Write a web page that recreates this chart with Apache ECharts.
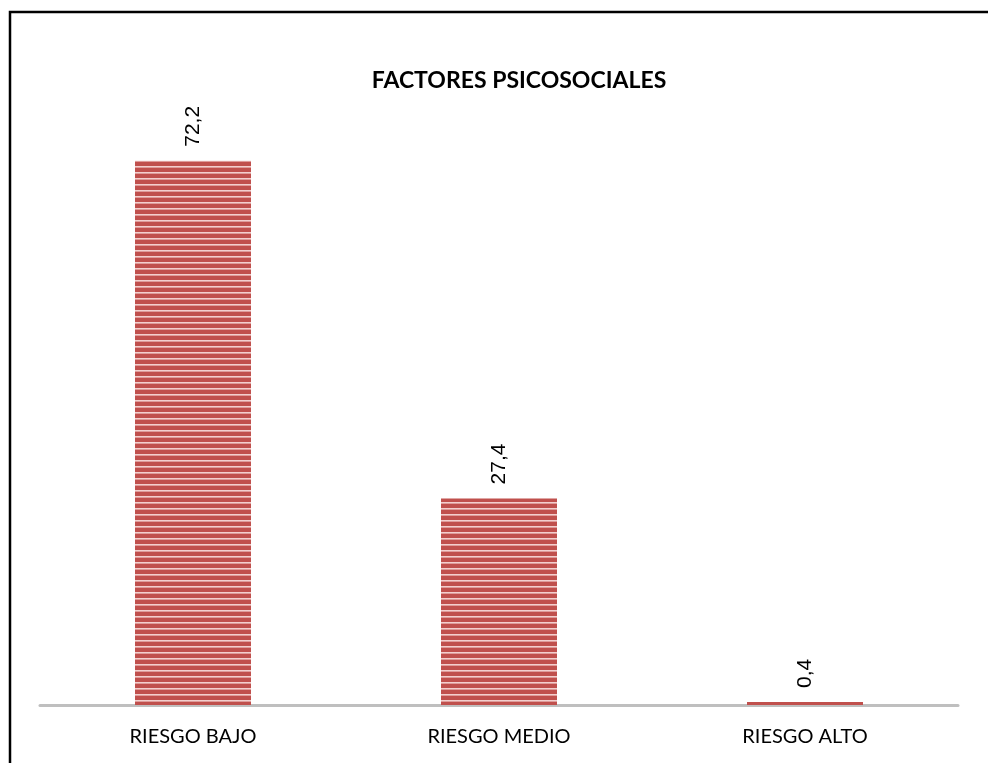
<!DOCTYPE html>
<html>
<head>
<meta charset="utf-8">
<script src="https://cdn.jsdelivr.net/npm/echarts@6/dist/echarts.min.js"></script>
<style>
html,body{margin:0;padding:0;background:#fff;}
#chart{width:988px;height:763px;}
</style>
</head>
<body>
<div id="chart"></div>
<script>
const titleText = 'FACTORES PSICOSOCIALES';
const categories = ['RIESGO BAJO', 'RIESGO MEDIO', 'RIESGO ALTO'];
const values = [72.2, 27.4, 0.4];

function stripePattern() {
  const c = document.createElement('canvas');
  c.width = 8; c.height = 6;
  const ctx = c.getContext('2d');
  ctx.fillStyle = '#c0504d';
  ctx.fillRect(0, 0, 8, 6);
  ctx.fillStyle = '#f3cfce';
  ctx.fillRect(0, 4, 8, 1.6);
  return c;
}

const chart = echarts.init(document.getElementById('chart'), null, {renderer: 'canvas'});
chart.setOption({
  animation: false,
  backgroundColor: '#fff',
  title: {
    text: titleText,
    left: 514, top: 64, textAlign: 'center',
    textStyle: {fontFamily: 'Lato', fontWeight: 'bold', fontSize: 23, color: '#000'}
  },
  graphic: [{
    type: 'rect', z: 100,
    shape: {x: 10, y: 12, width: 1000, height: 800},
    style: {fill: 'none', stroke: '#000', lineWidth: 2.5}
  }],
  grid: {left: 40, right: 30, top: 102, bottom: 58},
  xAxis: {
    type: 'category', data: categories,
    axisLine: {lineStyle: {color: '#bfbfbf', width: 3}},
    axisTick: {show: false},
    axisLabel: {fontFamily: 'Lato', fontSize: 20, color: '#000', margin: 22}
  },
  yAxis: {
    type: 'value', min: 0, max: 80,
    show: false, splitLine: {show: false}
  },
  series: [{
    type: 'bar', data: values, barWidth: 116,
    itemStyle: {color: {image: stripePattern(), repeat: 'repeat'}},
    label: {
      show: true, position: 'top', rotate: 90, align: 'left', verticalAlign: 'middle',
      distance: 14, fontFamily: 'Liberation Sans', fontSize: 21, color: '#000',
      formatter: p => String(p.value).replace('.', ',')
    }
  }]
});
</script>
</body>
</html>
